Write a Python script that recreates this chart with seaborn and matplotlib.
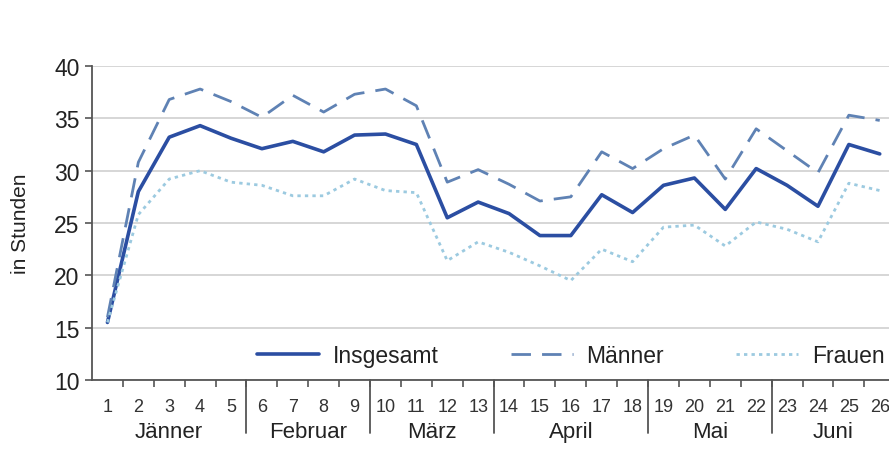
import numpy as np
import pandas as pd
import matplotlib
matplotlib.use('Agg')
import matplotlib.pyplot as plt
import matplotlib.transforms as mtransforms
import seaborn as sns

# Data (weekly hours)
weeks = list(range(1, 27))
insgesamt = [15.5, 28.0, 33.2, 34.3, 33.1, 32.1, 32.8, 31.8, 33.4, 33.5, 32.5, 25.5, 27.0,
             25.9, 23.8, 23.8, 27.7, 26.0, 28.6, 29.3, 26.3, 30.2, 28.6, 26.6, 32.5, 31.6]
maenner = [16.0, 30.8, 36.8, 37.8, 36.6, 35.1, 37.2, 35.6, 37.3, 37.8, 36.2, 28.9, 30.1,
           28.7, 27.1, 27.5, 31.8, 30.2, 32.1, 33.4, 29.2, 34.0, 31.9, 29.8, 35.3, 34.8]
frauen = [15.5, 25.8, 29.2, 30.0, 28.9, 28.6, 27.6, 27.6, 29.2, 28.1, 27.9, 21.4, 23.2,
          22.2, 20.9, 19.5, 22.5, 21.3, 24.6, 24.8, 22.8, 25.1, 24.4, 23.2, 28.8, 28.1]
months = ['Jänner', 'Februar', 'März', 'April', 'Mai', 'Juni']
weeks_per_month = [5, 4, 4, 5, 4, 4]

df = pd.DataFrame({'Woche': weeks, 'Insgesamt': insgesamt,
                   'Männer': maenner, 'Frauen': frauen})

sns.set_style('white')
plt.rcParams['font.family'] = ['Liberation Sans', 'DejaVu Sans']

fig = plt.figure(figsize=(8.89, 4.52), dpi=100)
ax = fig.add_axes([92 / 889, 1 - 381 / 452, 1 - 92 / 889, 314 / 452])

sns.lineplot(data=df, x='Woche', y='Insgesamt', ax=ax, color='#2b4ea2',
             linewidth=2.6, label='Insgesamt')
sns.lineplot(data=df, x='Woche', y='Männer', ax=ax, color='#5f82b4',
             linewidth=2.0, label='Männer')
ax.lines[-1].set_dashes([7, 4])
sns.lineplot(data=df, x='Woche', y='Frauen', ax=ax, color='#9ccae0',
             linewidth=2.0, label='Frauen')
ax.lines[-1].set_dashes([1.2, 1.5])

ax.set_xlim(0.5, 26.3)
ax.set_ylim(10, 40)
ax.set_yticks(range(10, 41, 5))
ax.yaxis.grid(True, color='#d0d0d0', linewidth=1.2)
ax.set_axisbelow(True)

for side in ['top', 'right']:
    ax.spines[side].set_visible(False)
for side in ['left', 'bottom']:
    ax.spines[side].set_color('#555555')
    ax.spines[side].set_linewidth(1.3)

ax.tick_params(axis='y', which='major', direction='out', length=5, width=1.2,
               color='#555555', labelsize=16.5, labelcolor='#222222', pad=4, left=True)
ax.set_xticks(weeks)
ax.set_xticklabels([str(w) for w in weeks], fontsize=13, color='#333333')
ax.tick_params(axis='x', which='major', length=0, pad=13)
ax.set_xticks(np.arange(1.5, 26.5, 1), minor=True)
ax.tick_params(axis='x', which='minor', direction='out', length=5, width=1.2,
               color='#555555', bottom=True)

ax.set_xlabel('')
ax.set_ylabel('in Stunden', fontsize=15, color='#222222', labelpad=17)

# month separators and labels
trans = mtransforms.blended_transform_factory(ax.transData, ax.transAxes)
start = 0.5
for name, n in zip(months, weeks_per_month):
    end = start + n
    ax.text((start + end) / 2, -0.165, name, transform=trans, ha='center',
            va='center', fontsize=16, color='#222222')
    if end < 26:
        ax.plot([end, end], [0, -0.17], transform=trans, color='#555555',
                linewidth=1.3, clip_on=False)
    start = end

ax.legend(loc='center', bbox_to_anchor=(0.601, 0.077), ncol=3, frameon=False,
          fontsize=16.5, handlelength=2.7, handletextpad=0.6, columnspacing=3.15,
          labelcolor='#222222')

fig.savefig('out.png', dpi=100)
